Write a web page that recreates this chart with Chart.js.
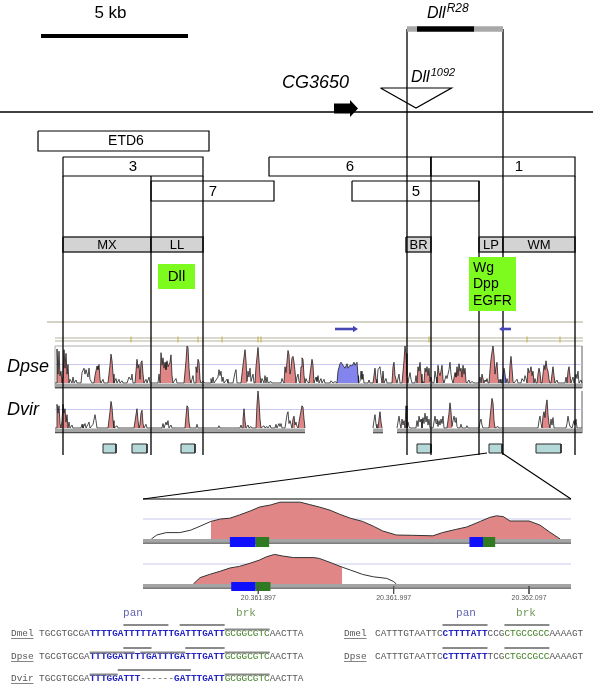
<!DOCTYPE html>
<html>
<head>
<meta charset="utf-8">
<title>Dll enhancer map</title>
<script src="https://cdn.jsdelivr.net/npm/chart.js@4.4.1/dist/chart.umd.min.js"></script>
<style>
  html, body { margin: 0; padding: 0; background: #fff; }
  #wrap { width: 593px; height: 686px; }
</style>
</head>
<body>
<div id="wrap"><canvas id="map" width="593" height="686"></canvas></div>
<script>
// ---- locus map data (map units along the locus, 5 kb = 147 units) ----
const scaleBar  = [41, 188];
const r28Breaks = [407, 417, 474, 503];   // grey | deleted | grey
const cg3650    = [334, 358];
const p1092     = 416;

const fragNames = ['ETD6', '3', '6', '1', '7', '5'];
const fragStart = [38, 63, 269, 431, 151, 352];
const fragEnd   = [209, 203, 431, 575, 274, 479];
const fragRow   = [0, 1, 1, 1, 2, 2];

const domNames = ['MX', 'LL', 'BR', 'LP', 'WM'];
const domStart = [63, 151, 406, 479, 503];
const domEnd   = [151, 203, 431, 503, 575];

const cutX = [63, 151, 203, 407, 431, 479, 503, 575];

const inputsLL = ['Dll'];
const inputsLP = ['Wg', 'Dpp', 'EGFR'];

const cnsStart = [103, 132, 181, 417, 489, 536];
const cnsEnd   = [116, 147, 195, 431, 502, 561];

const trackNames  = ['Dpse', 'Dvir'];
const utrArrows   = [[335, 358], [511, 499]];
const refTicks    = [131, 178, 198, 222, 258, 261, 429, 527, 560];
const dvirAligned = [[55, 305], [373, 383], [397, 582]];

// conservation profiles: [position, % identity, kind]  p = CNS, b = UTR, w = below threshold
const dpseProfile = [
  [55,50,'w'],
  [56,50,'p'],[57,96,'p'],[58,62,'p'],[59,93,'p'],[60,60,'p'],[61,66,'p'],[62,50,'p'],[63,58,'p'],[64,95,'p'],[65,70,'p'],[66,90,'p'],[67,62,'p'],[68,75,'p'],[69,50,'p'],
  [70,55,'w'],[72,50,'w'],[73,58,'w'],[74,50,'w'],[76,54,'w'],[77,50,'w'],
  [81,50,'w'],[82,64,'w'],[84,70,'w'],[85,62,'w'],[86,68,'w'],[88,58,'w'],[89,70,'w'],[90,55,'w'],[92,50,'w'],
  [94,50,'p'],[95,60,'p'],[97,73,'p'],[98,68,'p'],[99,75,'p'],[100,55,'p'],[101,50,'p'],
  [103,55,'w'],[104,50,'w'],
  [108,50,'p'],[110,74,'p'],[111,89,'p'],[112,80,'p'],[113,62,'p'],[114,50,'p'],
  [116,56,'w'],[117,50,'w'],[119,55,'w'],[120,50,'w'],[122,53,'w'],[123,50,'w'],
  [127,50,'w'],[129,58,'w'],[131,54,'w'],[132,62,'w'],[133,50,'w'],
  [135,50,'p'],[137,82,'p'],[138,70,'p'],[139,75,'p'],[140,55,'p'],[141,78,'p'],[142,80,'p'],[143,62,'p'],[144,50,'p'],
  [146,55,'w'],[147,50,'w'],[149,58,'w'],[150,50,'w'],
  [158,50,'w'],[159,62,'w'],
  [160,50,'p'],[161,91,'p'],[162,74,'p'],[163,84,'p'],[164,70,'p'],[165,78,'p'],[166,68,'p'],[167,80,'p'],[168,72,'p'],[170,78,'p'],[171,88,'p'],[172,60,'p'],[173,50,'p'],
  [176,56,'w'],[177,50,'w'],
  [184,50,'p'],[186,80,'p'],[187,100,'p'],[188,98,'p'],[189,70,'p'],[190,55,'p'],[191,50,'p'],
  [193,60,'w'],[194,50,'w'],
  [195,50,'p'],[196,72,'p'],[197,64,'p'],[198,82,'p'],[199,78,'p'],[200,55,'p'],[201,50,'p'],
  [203,52,'w'],[205,50,'w'],
  [210,50,'w'],[211,56,'w'],[212,50,'w'],[213,58,'w'],[214,50,'w'],
  [218,58,'w'],[219,68,'w'],[220,60,'w'],[221,66,'w'],[222,52,'w'],[223,58,'w'],[224,50,'w'],
  [227,55,'w'],[228,50,'w'],
  [233,50,'w'],[235,64,'w'],[236,68,'w'],[237,50,'w'],
  [241,50,'p'],[243,74,'p'],[245,95,'p'],[246,80,'p'],[247,52,'p'],
  [248,66,'w'],[249,58,'w'],[250,70,'w'],[251,52,'w'],[253,62,'w'],[254,50,'w'],
  [255,50,'p'],[256,72,'p'],[258,98,'p'],[259,80,'p'],[260,60,'p'],[261,50,'p'],
  [262,56,'w'],[264,50,'w'],[265,60,'w'],[266,50,'w'],[267,58,'w'],[268,50,'w'],[271,52,'w'],[272,50,'w'],
  [281,50,'w'],[282,56,'w'],[283,52,'w'],
  [284,50,'p'],[285,72,'p'],[286,64,'p'],[288,94,'p'],[289,88,'p'],[290,62,'p'],[291,70,'p'],[292,84,'p'],[293,86,'p'],[294,78,'p'],[295,66,'p'],[296,50,'p'],
  [297,58,'w'],[298,62,'w'],[299,52,'w'],
  [300,50,'p'],[301,72,'p'],[302,84,'p'],[303,82,'p'],[304,60,'p'],[305,50,'p'],
  [306,56,'w'],[307,52,'w'],
  [309,50,'p'],[310,62,'p'],[312,82,'p'],[313,74,'p'],[314,50,'p'],
  [316,58,'w'],[317,52,'w'],[318,60,'w'],[319,50,'w'],[321,56,'w'],[322,50,'w'],[324,55,'w'],[325,50,'w'],
  [330,50,'w'],[331,53,'w'],[333,50,'w'],[335,52,'w'],
  [337,50,'b'],[338,66,'b'],[340,76,'b'],[341,78,'b'],[343,74,'b'],[345,70,'b'],[347,76,'b'],[348,70,'b'],[350,74,'b'],[352,73,'b'],[354,78,'b'],[355,74,'b'],[357,78,'b'],[358,60,'b'],[358.5,50,'b'],
  [360,52,'w'],[361,66,'w'],[362,55,'w'],[363,62,'w'],[364,50,'w'],
  [368,50,'w'],[369,54,'w'],[370,50,'w'],
  [373,50,'p'],[375,70,'p'],[376,55,'p'],[377,50,'p'],
  [378,68,'w'],[380,72,'w'],[381,60,'w'],
  [382,50,'p'],[383,66,'p'],[384,50,'p'],
  [386,56,'w'],[387,50,'w'],
  [392,50,'p'],[393,72,'p'],[394,78,'p'],[395,60,'p'],[396,55,'p'],[397,50,'p'],
  [399,62,'w'],[400,50,'w'],
  [402,50,'p'],[404,80,'p'],[405,100,'p'],[406,90,'p'],[407,60,'p'],[408,50,'p'],
  [409,58,'w'],[410,64,'w'],[411,55,'w'],[412,50,'w'],
  [415,50,'w'],[416,60,'w'],
  [417,50,'p'],[418,72,'p'],[419,66,'p'],[420,78,'p'],[421,62,'p'],[422,50,'p'],
  [423,52,'w'],
  [424,50,'p'],[425,70,'p'],[426,65,'p'],[427,72,'p'],[428,60,'p'],[429,70,'p'],[430,52,'p'],
  [431,58,'w'],[432,50,'w'],
  [434,50,'w'],[435,66,'w'],[436,58,'w'],
  [437,50,'p'],[438,74,'p'],[439,64,'p'],[440,60,'p'],[441,66,'p'],[442,74,'p'],[443,55,'p'],[444,50,'p'],
  [446,60,'w'],[447,56,'w'],[449,68,'w'],[450,78,'w'],[451,62,'w'],[452,54,'w'],
  [453,50,'p'],[455,64,'p'],[456,58,'p'],[457,72,'p'],[458,60,'p'],[459,76,'p'],[460,66,'p'],[461,70,'p'],[462,58,'p'],[463,74,'p'],[464,62,'p'],[465,70,'p'],[466,52,'p'],[467,50,'p'],
  [469,54,'w'],[470,50,'w'],[472,52,'w'],[474,50,'w'],
  [479,50,'w'],[480,58,'w'],
  [481,50,'p'],[482,62,'p'],[483,56,'p'],[484,50,'p'],
  [485,54,'w'],[486,52,'w'],[487,56,'w'],[488,50,'w'],
  [489,50,'p'],[490,68,'p'],[491,82,'p'],[492,92,'p'],[493,100,'p'],[494,88,'p'],[495,62,'p'],[496,72,'p'],[497,78,'p'],[498,56,'p'],[499,50,'p'],
  [500,55,'w'],[501,50,'w'],
  [502,50,'b'],[503,60,'b'],[504,70,'b'],[505,62,'b'],[506,50,'b'],
  [507,56,'w'],[508,50,'w'],
  [509,50,'p'],[510,74,'p'],[511,86,'p'],[512,70,'p'],[513,52,'p'],[514,50,'p'],
  [517,55,'w'],[518,50,'w'],
  [521,50,'w'],[522,56,'w'],[524,52,'w'],[525,60,'w'],[526,56,'w'],
  [527,50,'p'],[528,70,'p'],[529,64,'p'],[530,66,'p'],[531,72,'p'],[532,60,'p'],[533,66,'p'],[534,50,'p'],
  [535,56,'w'],[536,50,'w'],
  [537,50,'p'],[538,62,'p'],[539,70,'p'],[540,64,'p'],[541,50,'p'],
  [542,50,'p'],[544,74,'p'],[545,68,'p'],[546,80,'p'],[547,70,'p'],[548,66,'p'],[549,55,'p'],[550,50,'p'],
  [551,50,'p'],[552,62,'p'],[553,72,'p'],[554,60,'p'],[555,50,'p'],
  [557,54,'w'],[558,50,'w'],
  [565,50,'w'],[566,58,'w'],
  [567,50,'p'],[568,66,'p'],[569,72,'p'],[570,60,'p'],[571,50,'p'],
  [573,58,'w'],[574,50,'w'],[576,62,'w'],[577,56,'w'],[578,66,'w'],[579,50,'w'],[581,54,'w'],[582,50,'w']
];

const dvirProfile = [
  [55,50,'w'],
  [56,50,'p'],[57,82,'p'],[58,70,'p'],[59,80,'p'],[60,56,'p'],[61,50,'p'],[62,60,'p'],[63,82,'p'],[64,70,'p'],[65,76,'p'],[66,58,'p'],[67,68,'p'],[68,50,'p'],
  [69,58,'w'],[70,50,'w'],[72,54,'w'],[73,50,'w'],
  [81,50,'w'],[82,55,'w'],[83,50,'w'],[85,56,'w'],[86,50,'w'],[88,55,'w'],[89,58,'w'],[90,50,'w'],[93,55,'w'],[95,68,'w'],[96,60,'w'],[97,50,'w'],
  [108,50,'p'],[110,72,'p'],[111,86,'p'],[112,78,'p'],[113,60,'p'],[114,50,'p'],
  [117,53,'w'],[118,50,'w'],
  [134,50,'p'],[136,68,'p'],[137,76,'p'],[138,60,'p'],[139,50,'p'],
  [140,55,'p'],[141,70,'p'],[142,74,'p'],[143,56,'p'],[144,50,'p'],
  [146,55,'w'],[147,50,'w'],
  [162,50,'w'],[163,56,'w'],[164,50,'w'],[166,58,'w'],[167,54,'w'],[168,60,'w'],[169,50,'w'],[171,54,'w'],[172,50,'w'],
  [185,50,'p'],[186,66,'p'],[187,80,'p'],[188,78,'p'],[189,58,'p'],[190,50,'p'],
  [196,50,'w'],[197,55,'w'],[198,50,'w'],
  [218,50,'w'],[219,53,'w'],[220,50,'w'],
  [240,50,'w'],[241,54,'w'],
  [242,50,'p'],[243,62,'p'],[244,76,'p'],[245,60,'p'],[246,50,'p'],
  [248,54,'w'],[249,50,'w'],[251,52,'w'],[252,50,'w'],
  [256,50,'p'],[257,82,'p'],[258,100,'p'],[259,86,'p'],[260,62,'p'],[261,50,'p'],
  [264,53,'w'],[265,50,'w'],[267,52,'w'],[268,50,'w'],[270,54,'w'],[271,50,'w'],
  [275,50,'w'],[276,55,'w'],[277,50,'w'],[279,56,'w'],[280,52,'w'],[281,56,'w'],[282,50,'w'],
  [285,50,'w'],[287,68,'w'],[288,72,'w'],[289,56,'w'],[290,60,'w'],[291,55,'w'],
  [292,50,'p'],[293,62,'p'],[294,66,'p'],[295,54,'p'],
  [296,58,'w'],[297,52,'w'],
  [298,50,'p'],[300,66,'p'],[302,80,'p'],[303,78,'p'],[304,62,'p'],[305,50,'p'],
  [305.5,null,'w'],
  [373,50,'w'],[374,60,'w'],[375,68,'w'],[376,55,'w'],[377,50,'w'],
  [378,50,'p'],[379,62,'p'],[380,72,'p'],[381,58,'p'],[382,50,'p'],
  [383,null,'w'],
  [397,50,'w'],[398,58,'w'],[399,66,'w'],[400,56,'w'],[401,50,'w'],[402,62,'w'],[403,54,'w'],[404,60,'w'],
  [405,50,'p'],[406,80,'p'],[407,50,'p'],
  [408,58,'w'],[409,52,'w'],[410,50,'w'],
  [416,50,'w'],[417,60,'w'],[418,52,'w'],[419,66,'w'],[420,58,'w'],[421,62,'w'],[422,50,'w'],[423,64,'w'],[424,56,'w'],[425,70,'w'],[426,58,'w'],[427,66,'w'],[428,54,'w'],[429,62,'w'],[430,50,'w'],
  [433,50,'w'],[434,58,'w'],[435,66,'w'],[436,56,'w'],[437,62,'w'],[438,52,'w'],[439,60,'w'],[440,54,'w'],[441,62,'w'],[442,56,'w'],[443,66,'w'],[444,50,'w'],
  [447,50,'p'],[449,70,'p'],[450,84,'p'],[451,72,'p'],[452,52,'p'],
  [453,60,'w'],[454,66,'w'],[455,58,'w'],[456,64,'w'],[457,52,'w'],[458,50,'w'],
  [460,50,'w'],[461,55,'w'],[462,50,'w'],
  [466,50,'w'],[467,53,'w'],[468,50,'w'],
  [479,50,'w'],[480,58,'w'],[481,62,'w'],[482,54,'w'],[483,50,'w'],
  [489,50,'p'],[490,64,'p'],[492,90,'p'],[493,84,'p'],[494,60,'p'],[495,50,'p'],
  [498,52,'w'],[499,50,'w'],
  [538,50,'w'],[539,60,'w'],[540,66,'w'],[541,56,'w'],
  [542,50,'p'],[543,66,'p'],[544,72,'p'],[545,64,'p'],[546,80,'p'],[547,88,'p'],[548,68,'p'],[549,56,'p'],[550,50,'p'],
  [551,62,'w'],[552,54,'w'],[553,64,'w'],[554,50,'w'],
  [566,50,'w'],[567,56,'w'],[568,66,'w'],[569,58,'w'],[570,52,'w'],
  [572,50,'w'],[574,60,'w'],[575,54,'w'],[576,62,'w'],[577,50,'w'],[582,50,'w']
];

// ---- zoomed LP enhancer (genomic bp) ----
const zoomTicks      = [20361897, 20361997, 20362097];
const zoomTickLabels = ['20.361.897', '20.361.997', '20.362.097'];

const zoomPse = [
  [20361818,50],[20361822,55],[20361829,58],[20361839,58],[20361847,61],[20361854,66],[20361862,72],[20361869,75],
  [20361876,76],[20361883,80],[20361891,85],[20361898,90],[20361906,92.5],[20361913,96],[20361928,96],[20361935,93],
  [20361942,90],[20361950,86],[20361957,81],[20361965,76],[20361974,72],[20361982,66],[20361989,60],[20361999,55],
  [20362011,54.6],[20362026,54],[20362033,58],[20362043,62],[20362051,65],[20362061,72],[20362068,77],[20362073,79],
  [20362078,78],[20362083,72.5],[20362097,72.5],[20362105,67.5],[20362112,59],[20362120,50]
];
const zoomPseCns = [20361862, 20362120];
const zoomVir = [
  [20361849,50],[20361854,58],[20361861,62],[20361869,66],[20361876,70],[20361883,72],[20361891,76],[20361898,80],
  [20361903,84],[20361909,87],[20361915,85],[20361923,83],[20361938,83],[20361942,82],[20361950,77],[20361959,71],
  [20361965,67.5],[20361974,62],[20361982,59],[20361992,57],[20361997,53],[20361999,50]
];
const zoomVirCns = [20361849, 20361959];
const panPse = [[20361876, 20361895], [20362053, 20362063]];
const brkPse = [[20361895, 20361905], [20362063, 20362072]];
const panVir = [[20361877, 20361895]];
const brkVir = [[20361895, 20361906]];

// ---- aligned sequences ----
const seqNames = ['Dmel', 'Dpse', 'Dvir'];
const seqLeft = [
  [['TGCGTGCGA','n'],['TTTTGATTTTTATTTGATTTGATT','pan'],['GCGGCGTC','brk'],['AACTTA','n']],
  [['TGCGTGCGA','n'],['TTTGGATTTTGATTTGATTTGATT','pan'],['GCGGCGTC','brk'],['AACTTA','n']],
  [['TGCGTGCGA','n'],['TTTGGATTT','pan'],['------','n'],['GATTTGATT','pan'],['GCGGCGTC','brk'],['AACTTA','n']]
];
const seqRight = [
  [['CATTTGTAATTC','n'],['CTTTTATT','pan'],['CCG','n'],['CTGCCGCC','brk'],['AAAAGT','n']],
  [['CATTTGTAATTC','n'],['CTTTTATT','pan'],['TCG','n'],['CTGCCGCC','brk'],['AAAAGT','n']]
];
// motif overlines: [row, level, first char, last char]
const marksLeft = [
  [0,0,15,23],[0,0,25,33],[0,1,33,41],
  [1,0,15,20],[1,0,26,33],[1,1,9,17],[1,1,18,26],[1,1,33,41],
  [2,0,14,27],[2,1,9,14],[2,1,33,41]
];
const marksRight = [[0,0,12,20],[0,0,23,31],[1,0,12,20],[1,0,23,31]];

// ---- layout (vertical rows in figure units) ----
const W = 593, H = 686;
const L = {
  barY: 36, r28Y: 29, axisY: 112, arrowY: 108.5,
  insTop: 88, insTip: 108, insHalf: 35.5,
  rows: [[131, 151], [157, 176], [181, 201]],
  fragLabelX: [126, 133, 350, 519, 213, 416],
  cutTop: [176, 176, 176, 29, 157, 181, 29, 176], cutBottom: 455,
  band: [237, 252],
  llBox: [158, 195, 264, 289], lpBox: [469, 516, 257, 311],
  refLine: 322, refDouble: [338, 341], utrY: 329,
  trackX: [55, 582], refX: [47, 583],
  pse: { p50: 383, p100: 346 }, vir: { p50: 428, p100: 391 },
  cnsBox: [444, 453],
  zoomFrom: [[487, 453], [502, 453]], zoomTo: [[143, 499], [571, 499]],
  zoomX: [143, 571],
  z1: { p50: 539, p100: 499 }, z2: { p50: 584, p100: 544 },
  z1Site: [537, 547], z2Site: [582, 591],
  zTick: [586, 594], zTickLabel: 598,
  zMap: { bp: 20361897, px: 258.3, bpPerPx: 0.7388 },
  seqRows: [634, 657, 679], seqLeft: [11, 39], seqRight: [344, 375],
  motifY: 613, motifLeft: [133, 246], motifRight: [466, 526]
};

const SANS = '"Liberation Sans", Arial, Helvetica, sans-serif';
const MONO = '"Liberation Mono", "Courier New", monospace';
const PINK = 'rgb(224,134,134)';
const UTR = 'rgb(132,132,238)';
const LIME = '#7dfa1e';
const NONE = 'rgba(0,0,0,0)';

// ---- build datasets (pushed back to front) ----
const layers = [];
function add(ds) {
  layers.push(Object.assign({
    type: 'line', xAxisID: 'x', yAxisID: 'y', borderColor: '#000', borderWidth: 1,
    pointRadius: 0, fill: false, borderCapStyle: 'butt', borderJoinStyle: 'miter'
  }, ds));
}
const P = pts => pts.map(p => ({ x: p[0], y: p[1] }));
function seg(x0, y0, x1, y1, o) { add(Object.assign({ data: P([[x0, y0], [x1, y1]]) }, o)); }
function box(x0, x1, y0, y1, o) {
  add(Object.assign({ data: P([[x0, y0], [x1, y0], [x1, y1], [x0, y1], [x0, y0]]), fill: 'shape' }, o));
}
function shape(pts, o) { add(Object.assign({ data: P(pts.concat([pts[0]])), fill: 'shape' }, o)); }

function profile(prof, yId) {
  const pick = k => prof.map(p => ({ x: p[0], y: (k === null || p[2] === k) ? p[1] : null }));
  add({ data: pick('p'), yAxisID: yId, fill: { value: 50 }, backgroundColor: PINK, borderColor: NONE });
  add({ data: pick('b'), yAxisID: yId, fill: { value: 50 }, backgroundColor: UTR, borderColor: NONE });
  add({ data: pick(null), yAxisID: yId, borderColor: '#1e1e1e', borderWidth: 0.8 });
}
function zoomProfile(prof, cns, yId) {
  add({ data: prof.map(p => ({ x: p[0], y: (p[0] >= cns[0] && p[0] <= cns[1]) ? p[1] : null })),
        xAxisID: 'xz', yAxisID: yId, fill: { value: 50 }, backgroundColor: PINK, borderColor: NONE });
  add({ data: P(prof), xAxisID: 'xz', yAxisID: yId, borderColor: '#333', borderWidth: 1 });
}
function baseBand(x0, x1, y, xId) {
  box(x0, x1, y, y + 3.5, { xAxisID: xId || 'x', backgroundColor: '#a4a4a4', borderColor: NONE });
  seg(x0, y + 4.2, x1, y + 4.2, { xAxisID: xId || 'x', borderColor: '#505050', borderWidth: 1.3 });
}

// main axis and track frames
seg(0, L.axisY, W, L.axisY, { borderWidth: 1.4 });
seg(L.refX[0], L.refLine, L.refX[1], L.refLine, { borderColor: '#a9a88c', borderWidth: 1.2 });
L.refDouble.forEach(y => seg(L.trackX[0], y, L.refX[1], y, { borderColor: '#b3b39c', borderWidth: 1 }));
refTicks.forEach(x => seg(x, L.refDouble[0] - 1.5, x, L.refDouble[1] + 1.5, { borderColor: '#c9b85a', borderWidth: 1.2 }));
box(L.trackX[0], L.trackX[1], L.pse.p100, L.pse.p50 + 5, { backgroundColor: NONE, fill: false, borderColor: '#9a9a9a', borderWidth: 0.8 });
seg(L.trackX[1], L.vir.p100, L.trackX[1], L.vir.p50 + 5, { borderColor: '#9a9a9a', borderWidth: 0.8 });
seg(L.trackX[0], 75, L.trackX[1], 75, { yAxisID: 'yPse', borderColor: '#c9c9ee', borderWidth: 1 });
seg(L.trackX[0], 75, L.trackX[1], 75, { yAxisID: 'yVir', borderColor: '#c9c9ee', borderWidth: 1 });

// enhancer fragments
fragNames.forEach((n, i) => {
  const r = L.rows[fragRow[i]];
  box(fragStart[i], fragEnd[i], r[0], r[1], { backgroundColor: '#fff', borderWidth: 1.2 });
});
// domain band
domNames.forEach((n, i) => box(domStart[i], domEnd[i], L.band[0], L.band[1], { backgroundColor: '#d3d3d3', borderColor: '#303030', borderWidth: 1.6 }));

// conservation tracks
profile(dpseProfile, 'yPse');
profile(dvirProfile, 'yVir');
baseBand(L.trackX[0], L.trackX[1], L.pse.p50 + 0.5);
dvirAligned.forEach(s => baseBand(s[0], s[1], L.vir.p50 + 0.5));

// CNS boxes under tracks
cnsStart.forEach((s, i) => box(s, cnsEnd[i], L.cnsBox[0], L.cnsBox[1], { backgroundColor: '#b5d8d9', borderColor: '#2a2a2a', borderWidth: 1 }));

// cut lines
cutX.forEach((x, i) => seg(x, L.cutTop[i], x, L.cutBottom, { borderWidth: 1.3 }));

// signalling inputs
box(L.llBox[0], L.llBox[1], L.llBox[2], L.llBox[3], { backgroundColor: LIME, borderColor: NONE });
box(L.lpBox[0], L.lpBox[1], L.lpBox[2], L.lpBox[3], { backgroundColor: LIME, borderColor: NONE });

// zoom lines and inset
L.zoomFrom.forEach((f, i) => seg(f[0], f[1], L.zoomTo[i][0], L.zoomTo[i][1], { borderWidth: 1.1 }));
seg(L.zoomX[0], L.zoomTo[0][1], L.zoomX[1], L.zoomTo[1][1], { borderWidth: 1.2 });
seg(L.zoomX[0], 75, L.zoomX[1], 75, { yAxisID: 'yZ1', borderColor: '#c9c9ee', borderWidth: 1 });
seg(L.zoomX[0], 75, L.zoomX[1], 75, { yAxisID: 'yZ2', borderColor: '#c9c9ee', borderWidth: 1 });
zoomProfile(zoomPse, zoomPseCns, 'yZ1');
zoomProfile(zoomVir, zoomVirCns, 'yZ2');
baseBand(L.zoomX[0], L.zoomX[1], L.z1.p50);
baseBand(L.zoomX[0], L.zoomX[1], L.z2.p50);
panPse.forEach(s => box(s[0], s[1], L.z1Site[0], L.z1Site[1], { xAxisID: 'xz', backgroundColor: '#1010ff', borderColor: NONE }));
brkPse.forEach(s => box(s[0], s[1], L.z1Site[0], L.z1Site[1], { xAxisID: 'xz', backgroundColor: '#2f7a22', borderColor: NONE }));
panVir.forEach(s => box(s[0], s[1], L.z2Site[0], L.z2Site[1], { xAxisID: 'xz', backgroundColor: '#1010ff', borderColor: NONE }));
brkVir.forEach(s => box(s[0], s[1], L.z2Site[0], L.z2Site[1], { xAxisID: 'xz', backgroundColor: '#2f7a22', borderColor: NONE }));
zoomTicks.forEach(t => seg(t, L.zTick[0], t, L.zTick[1], { xAxisID: 'xz', borderColor: '#555', borderWidth: 1 }));

// top of figure: scale bar, deficiency, gene arrow, insertion
seg(scaleBar[0], L.barY, scaleBar[1], L.barY, { borderWidth: 4 });
seg(r28Breaks[0], L.r28Y, r28Breaks[1], L.r28Y, { borderColor: '#a8a8a8', borderWidth: 5.5 });
seg(r28Breaks[1], L.r28Y, r28Breaks[2], L.r28Y, { borderColor: '#000', borderWidth: 5.5 });
seg(r28Breaks[2], L.r28Y, r28Breaks[3], L.r28Y, { borderColor: '#a8a8a8', borderWidth: 5.5 });
{
  const a = cg3650, y = L.arrowY, neck = a[1] - 8;
  shape([[a[0], y - 5], [neck, y - 5], [neck, y - 8.5], [a[1], y], [neck, y + 8.5], [neck, y + 5], [a[0], y + 5]],
        { backgroundColor: '#000', borderColor: NONE });
}
add({ data: P([[p1092 - L.insHalf, L.insTop], [p1092 + L.insHalf, L.insTop], [p1092, L.insTip], [p1092 - L.insHalf, L.insTop]]), borderWidth: 1.2 });
utrArrows.forEach(a => {
  const dir = Math.sign(a[1] - a[0]), neck = a[1] - dir * 5;
  seg(a[0], L.utrY, neck, L.utrY, { borderColor: '#4646b4', borderWidth: 2.6 });
  shape([[neck, L.utrY - 3.2], [a[1], L.utrY], [neck, L.utrY + 3.2]], { backgroundColor: '#4646b4', borderColor: NONE });
});

layers.reverse();

// ---- scales ----
function trackAxis(t) {
  const k = (t.p50 - t.p100) / 50;
  return { type: 'linear', axis: 'y', display: false, min: 50 - (H - t.p50) / k, max: 100 + t.p100 / k };
}

// ---- text layer ----
const textLayer = {
  id: 'textLayer',
  afterDatasetsDraw(chart) {
    const ctx = chart.ctx;
    const X = v => chart.scales.x.getPixelForValue(v);
    const Y = v => chart.scales.y.getPixelForValue(v);
    const XZ = v => chart.scales.xz.getPixelForValue(v);
    const put = (t, x, y, font, color, align, base) => {
      ctx.font = font; ctx.fillStyle = color || '#000';
      ctx.textAlign = align || 'center'; ctx.textBaseline = base || 'middle';
      ctx.fillText(t, x, y);
      return ctx.measureText(t).width;
    };
    const sup = (main, s, x, y, size, ssize, dy) => {
      const w = put(main, x, y, 'italic ' + size + 'px ' + SANS, '#000', 'left', 'alphabetic');
      put(s, x + w + 1, y - dy, 'italic ' + ssize + 'px ' + SANS, '#000', 'left', 'alphabetic');
    };
    ctx.save();
    put('5 kb', X((scaleBar[0] + scaleBar[1]) / 2) - 4, Y(18), '17px ' + SANS, '#000', 'center', 'alphabetic');
    sup('Dll', 'R28', X(427), Y(18), 16, 12, 6);
    sup('Dll', '1092', X(411), Y(82), 16, 11, 6);
    put('CG3650', X(282), Y(88), 'italic 18px ' + SANS, '#000', 'left', 'alphabetic');

    fragNames.forEach((n, i) => {
      const r = L.rows[fragRow[i]];
      put(n, X(L.fragLabelX[i]), Y((r[0] + r[1]) / 2 + 0.5), (i === 0 ? '14px ' : '15px ') + SANS);
    });
    domNames.forEach((n, i) => put(n, X((domStart[i] + domEnd[i]) / 2), Y((L.band[0] + L.band[1]) / 2 + 0.5), '13px ' + SANS));
    put(inputsLL[0], X((L.llBox[0] + L.llBox[1]) / 2), Y((L.llBox[2] + L.llBox[3]) / 2), '15px ' + SANS);
    inputsLP.forEach((n, i) => put(n, X(L.lpBox[0] + 4), Y(L.lpBox[2] + 11 + i * 16.5), '14px ' + SANS, '#000', 'left'));
    trackNames.forEach((n, i) => put(n, X(7), Y(i ? 410 : 367), 'italic 18px ' + SANS, '#000', 'left'));
    zoomTicks.forEach((t, i) => put(zoomTickLabels[i], XZ(t), Y(L.zTickLabel), '7px ' + SANS, '#555'));

    // sequence alignment
    const SEQ = '9.4px ' + MONO;
    ctx.font = SEQ;
    const cw = ctx.measureText('A').width;
    const colors = { n: '#555', pan: '#2323c4', brk: '#3f7f22' };
    const block = (names, parts, marks, pos, motif) => {
      put('pan', X(motif[0]), Y(L.motifY), '11px ' + MONO, '#6262b0');
      put('brk', X(motif[1]), Y(L.motifY), '11px ' + MONO, '#6f9a57');
      parts.forEach((row, r) => {
        const y = Y(L.seqRows[r]);
        const w = put(names[r], X(pos[0]), y, SEQ, '#555', 'left');
        ctx.fillStyle = '#666';
        ctx.fillRect(X(pos[0]), y + 4, w, 0.8);
        let x = X(pos[1]);
        row.forEach(([s, k]) => {
          put(s, x, y, (k === 'pan' ? 'bold ' : '') + SEQ, colors[k], 'left');
          x += s.length * cw;
        });
      });
      ctx.fillStyle = '#8a8a8a';
      marks.forEach(([r, lvl, c0, c1]) => {
        const y = Y(L.seqRows[r] - (lvl ? 4.5 : 9));
        ctx.fillRect(X(pos[1]) + c0 * cw, y - 1, (c1 - c0) * cw, 2);
      });
    };
    block(seqNames, seqLeft, marksLeft, L.seqLeft, L.motifLeft);
    block(seqNames, seqRight, marksRight, L.seqRight, L.motifRight);
    ctx.restore();
  }
};

new Chart(document.getElementById('map'), {
  type: 'line',
  data: { datasets: layers },
  options: {
    responsive: false,
    animation: false,
    events: [],
    layout: { padding: 0 },
    plugins: { legend: { display: false }, tooltip: { enabled: false } },
    elements: { point: { radius: 0, hoverRadius: 0 }, line: { tension: 0 } },
    scales: {
      x:  { type: 'linear', axis: 'x', display: false, min: 0, max: W },
      y:  { type: 'linear', axis: 'y', display: false, min: 0, max: H, reverse: true },
      xz: { type: 'linear', axis: 'x', display: false,
            min: L.zMap.bp - L.zMap.px * L.zMap.bpPerPx, max: L.zMap.bp + (W - L.zMap.px) * L.zMap.bpPerPx },
      yPse: trackAxis(L.pse),
      yVir: trackAxis(L.vir),
      yZ1: trackAxis(L.z1),
      yZ2: trackAxis(L.z2)
    }
  },
  plugins: [textLayer]
});
</script>
</body>
</html>
